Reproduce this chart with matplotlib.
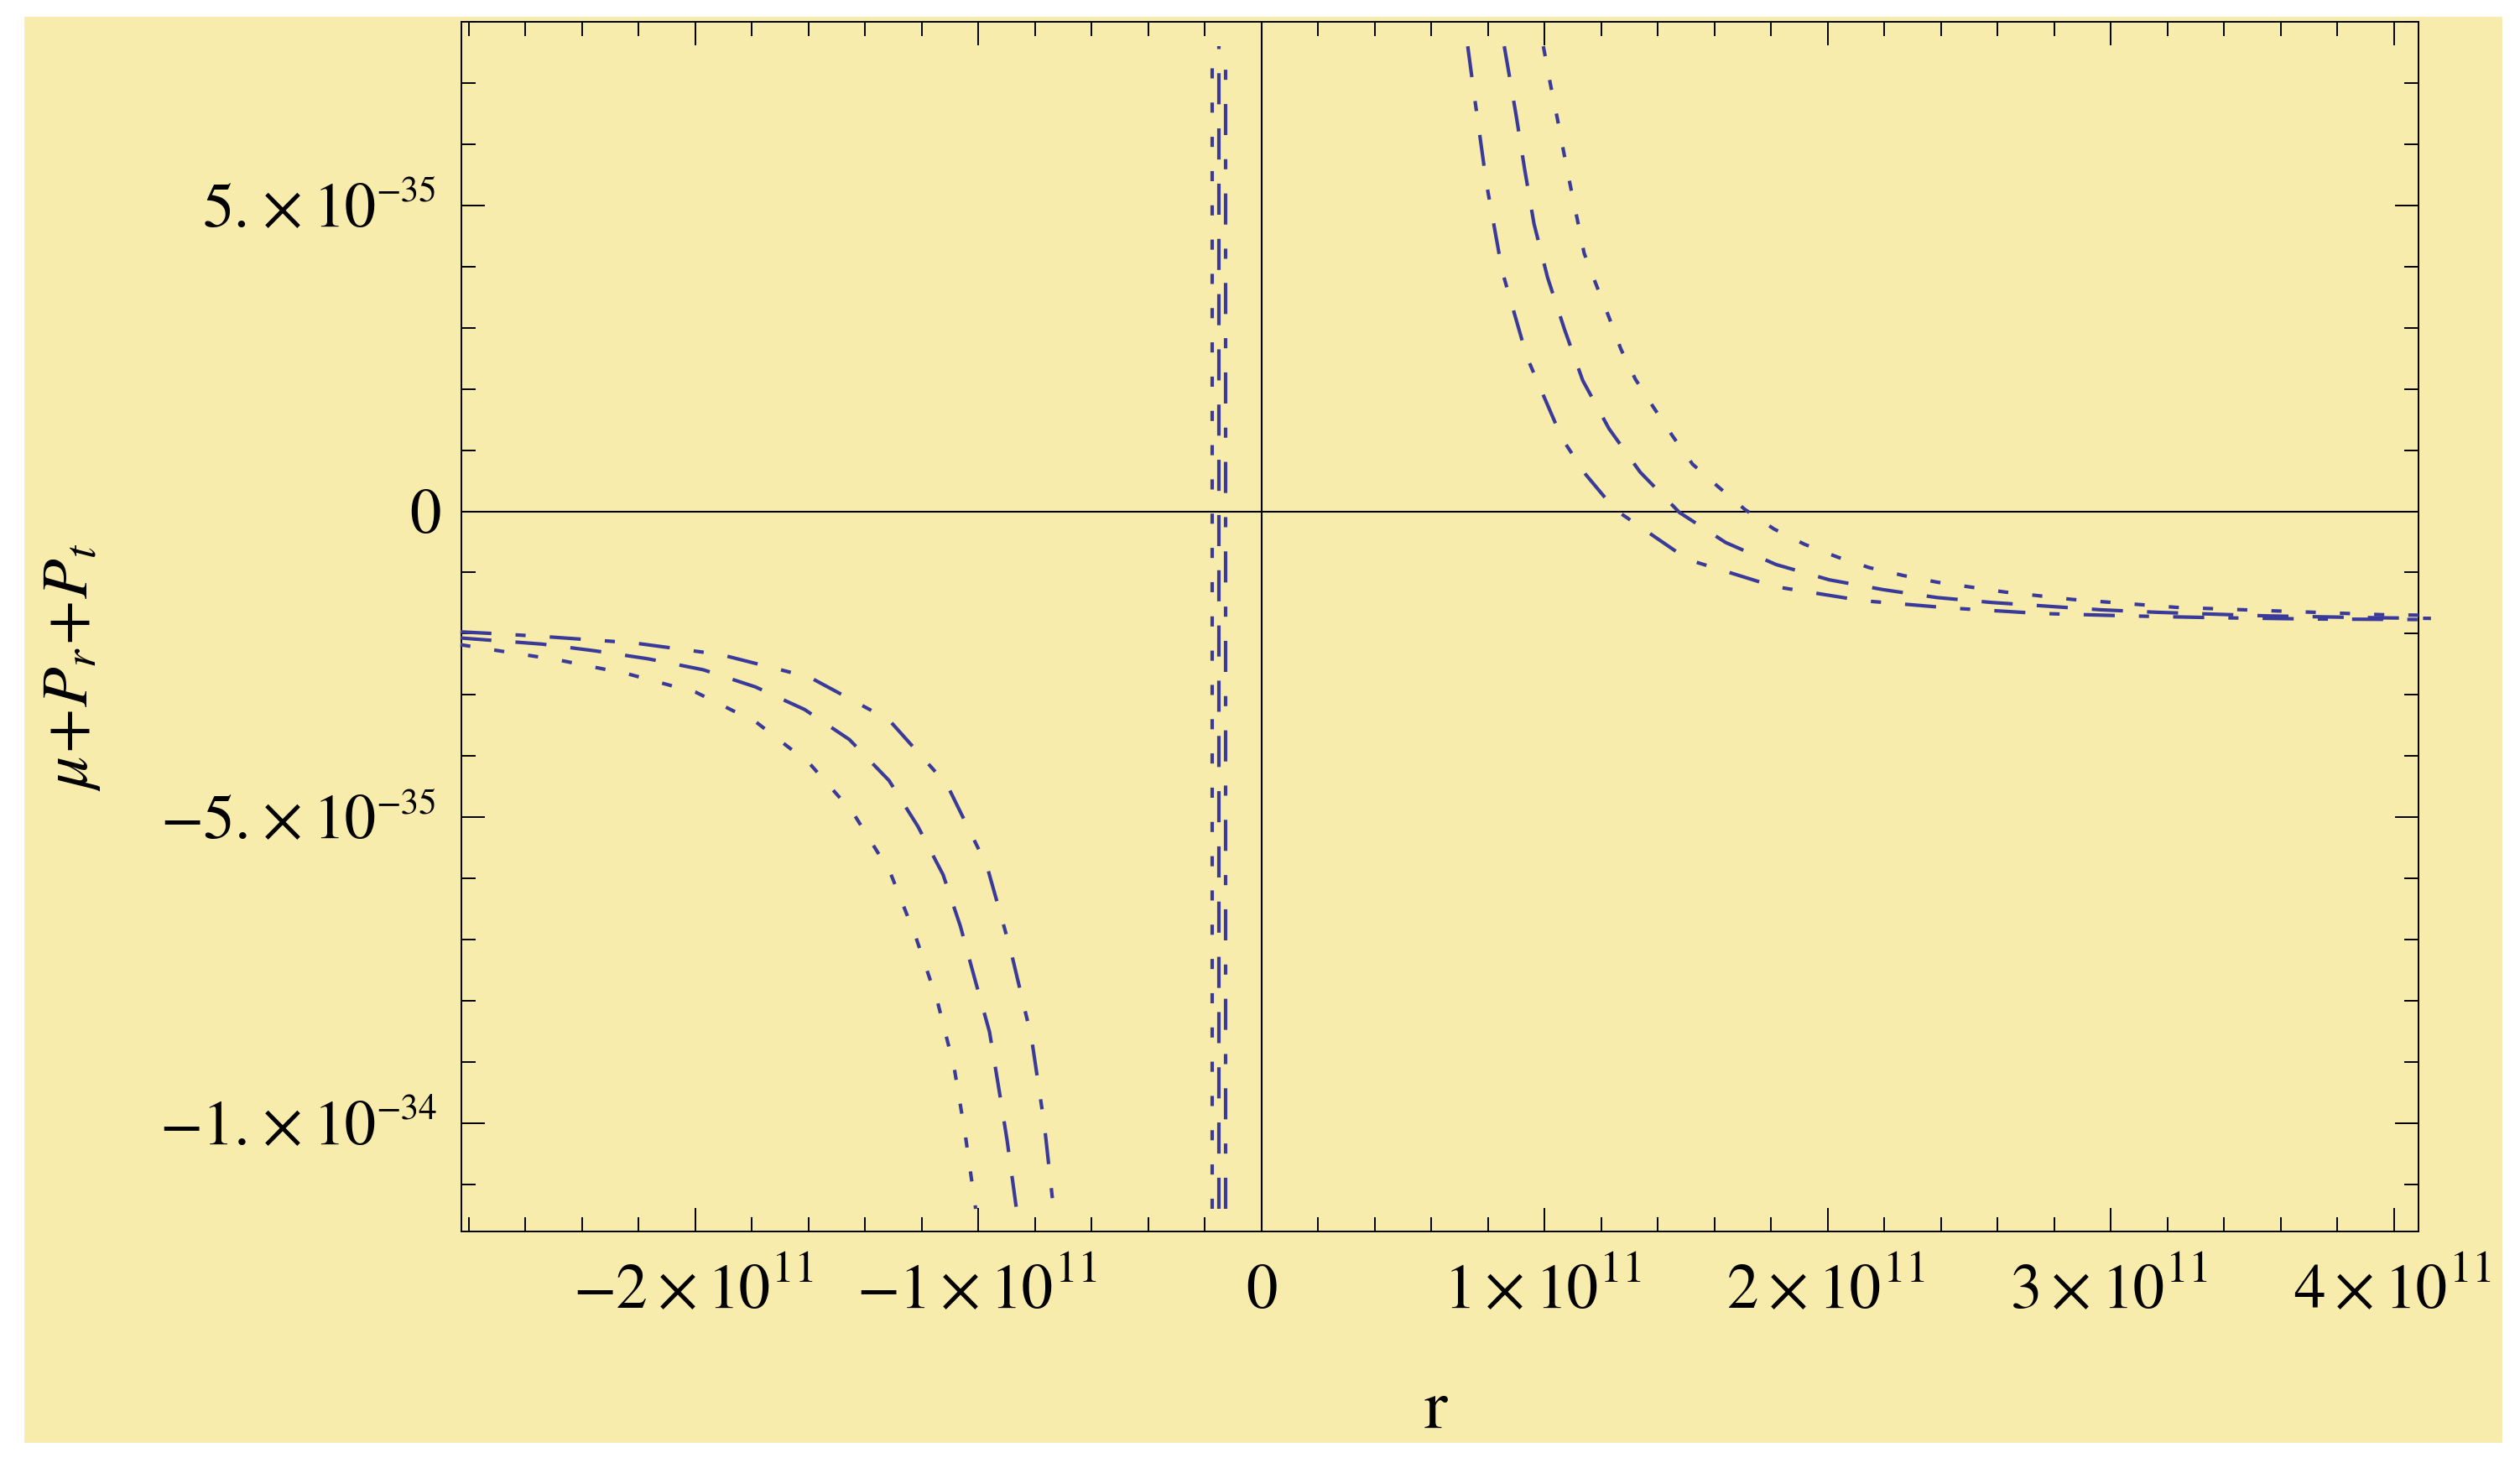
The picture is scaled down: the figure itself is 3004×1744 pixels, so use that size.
"""Mathematica-style plot of mu + P_r + P_t against r (three parameter choices)."""

import matplotlib.pyplot as plt
from matplotlib.patches import Rectangle
from matplotlib.ticker import MultipleLocator, FixedLocator
from matplotlib.transforms import IdentityTransform

plt.rcParams['mathtext.fontset'] = 'stix'
plt.rcParams['font.family'] = 'STIXGeneral'

# r in units of 1e11, mu+Pr+Pt in units of 1e-35
# left branch (r < 0)
r_left_dotdash = [-2.83, -2.704, -2.525, -2.219, -1.912, -1.597, -1.316, -1.111,
                  -0.970, -0.887, -0.813, -0.767, -0.735]
f_left_dotdash = [-1.97, -2.00, -2.05, -2.15, -2.34, -2.71, -3.41, -4.47,
                  -5.80, -7.16, -8.60, -10.04, -11.40]
r_left_dashed = [-2.83, -2.542, -2.355, -2.168, -1.972, -1.788, -1.614, -1.456,
                 -1.316, -1.214, -1.125, -1.064, -1.012, -0.961, -0.929, -0.899, -0.866]
f_left_dashed = [-2.07, -2.17, -2.28, -2.41, -2.59, -2.87, -3.24, -3.73,
                 -4.40, -5.15, -5.94, -6.78, -7.66, -8.51, -9.41, -10.28, -11.40]
r_left_dotted = [-2.83, -2.721, -2.483, -2.236, -1.997, -1.784, -1.597, -1.444,
                 -1.312, -1.222, -1.145, -1.086, -1.047, -1.010]
f_left_dotted = [-2.18, -2.26, -2.43, -2.66, -2.96, -3.45, -4.12, -4.92,
                 -5.90, -6.95, -8.01, -9.09, -10.18, -11.40]

# right branch (r > 0)
r_right_dotdash = [0.728, 0.751, 0.794, 0.850, 0.937, 1.061, 1.145, 1.248, 1.506,
                   1.812, 2.121, 2.430, 2.752, 3.068, 3.382, 3.704, 4.13]
f_right_dotdash = [7.60, 6.80, 5.36, 3.92, 2.52, 1.19, 0.60, 0.03, -0.79,
                   -1.23, -1.46, -1.58, -1.67, -1.71, -1.74, -1.76, -1.77]
r_right_dashed = [0.857, 0.866, 0.899, 0.929, 0.962, 1.010, 1.070, 1.134, 1.227,
                  1.337, 1.476, 1.639, 1.817, 2.005, 2.195, 2.386, 2.579, 2.772,
                  2.964, 3.160, 3.555, 3.939, 4.13]
f_right_dashed = [7.60, 7.36, 6.47, 5.59, 4.70, 3.82, 2.97, 2.14, 1.35,
                  0.64, -0.02, -0.51, -0.87, -1.12, -1.28, -1.41, -1.49, -1.55,
                  -1.61, -1.65, -1.71, -1.74, -1.75]
r_right_dotted = [0.995, 1.020, 1.044, 1.067, 1.090, 1.115, 1.139, 1.182, 1.227,
                  1.269, 1.320, 1.384, 1.453, 1.522, 1.613, 1.707, 1.810, 1.918,
                  2.035, 2.146, 2.267, 2.388, 2.626, 2.863, 3.231, 3.592, 3.958, 4.13]
f_right_dotted = [7.60, 6.98, 6.43, 5.87, 5.33, 4.77, 4.22, 3.70, 3.17,
                  2.65, 2.16, 1.70, 1.22, 0.77, 0.40, 0.03, -0.29, -0.54,
                  -0.75, -0.92, -1.05, -1.16, -1.32, -1.44, -1.57, -1.63, -1.69, -1.70]

# pole near r ~ -1.5e10, drawn as a jump by the plotter
r_pole = [-0.176, -0.150, -0.128]   # dotted, dashed, dot-dashed
f_pole = [-11.40, 7.60]

# tick labels: value, mantissa, exponent
x_ticks = [-2, -1, 0, 1, 2, 3, 4]
x_mant = ['\u22122', '\u22121', '0', '1', '2', '3', '4']
x_exp = ['11', '11', '', '11', '11', '11', '11']
y_ticks = [-10, -5, 0, 5]
y_mant = ['\u22121.', '\u22125.', '0', '5.']
y_exp = ['\u221234', '\u221235', '', '\u221235']

yellow = '#F8ECAD'
blue = '#3A3A9A'
lw = 1.5
dotted = (2.9, 6.9)
dashed = (8.9, 6.9)
dotdash = (8.9, 6.9, 2.9, 6.9)

W, H = 3004, 1744
fig = plt.figure(figsize=(W / 200, H / 200), dpi=200)
fig.patches.append(Rectangle((30 / W, 1 - 1718 / H), (2981 - 30) / W,
                             (1718 - 21) / H, transform=fig.transFigure,
                             color=yellow, zorder=-10))
ax = fig.add_axes([549.8 / W, 1 - 1468 / H, (2883 - 549.8) / W, (1468 - 26) / H])
ax.set_facecolor(yellow)

# zero axes
ax.axhline(0, color='black', lw=0.75, zorder=1)
ax.axvline(0, color='black', lw=0.75, zorder=1)

for (r, f, pat) in [(r_left_dotted, f_left_dotted, dotted),
                    (r_left_dashed, f_left_dashed, dashed),
                    (r_left_dotdash, f_left_dotdash, dotdash),
                    (r_right_dotted, f_right_dotted, dotted),
                    (r_right_dashed, f_right_dashed, dashed),
                    (r_right_dotdash, f_right_dotdash, dotdash)]:
    ax.plot(r, f, color=blue, lw=lw, dashes=pat, clip_on=False, zorder=3)

for rp, pat in zip(r_pole, [dotted, dashed, dotdash]):
    ax.plot([rp, rp], f_pole, color=blue, lw=lw, dashes=pat, zorder=3)

ax.set_xlim(-2.827, 4.086)
ax.set_ylim(-11.77, 8.0)

ax.xaxis.set_major_locator(FixedLocator(x_ticks))
ax.xaxis.set_minor_locator(MultipleLocator(0.2))
ax.yaxis.set_major_locator(FixedLocator(y_ticks))
ax.yaxis.set_minor_locator(MultipleLocator(1))

ax.tick_params(which='both', direction='in', top=True, right=True, width=0.7,
               labelbottom=False, labelleft=False, colors='black')
ax.tick_params(which='major', length=10)
ax.tick_params(which='minor', length=6)
for sp in ax.spines.values():
    sp.set_linewidth(0.7)

# Mathematica-like "a x 10^n" tick labels, built from separate pieces
fig.canvas.draw()
rend = fig.canvas.get_renderer()
ident = IdentityTransform()


def sci_label(x, y, mant, exp, size, exp_size, rise, gaps, align):
    """Place mant x 10^exp; gaps = extra px before 'x', before '10', before exp."""
    if exp:
        parts = [(mant, size, 0), ('\u00d7', size, 0), ('10', size, 0),
                 (exp, exp_size, rise)]
    else:
        parts = [(mant, size, 0)]
    texts, widths = [], []
    for s, fs, dy in parts:
        t = fig.text(0, 0, s, fontsize=fs, transform=ident, ha='left', va='baseline')
        texts.append((t, dy))
        widths.append(t.get_window_extent(rend).width)
    g = [0] + list(gaps[:len(parts) - 1])
    total = sum(widths) + sum(g)
    left = x - total if align == 'right' else x - total / 2
    for (t, dy), w, gi in zip(texts, widths, g):
        left += gi
        t.set_position((left, y + dy))
        left += w


for v, m, e in zip(y_ticks, y_mant, y_exp):
    ty = ax.transData.transform((0, v))[1]
    sci_label(521 if e else 526, ty - 25, m, e, 27, 15.5, 30, (14, 13, 0), 'right')

for v, m, e in zip(x_ticks, x_mant, x_exp):
    tx = ax.transData.transform((v, 0))[0]
    sci_label(tx, H - 1559, m, e, 27, 19.5, 31, (11, 12, 2), 'center')

fig.text(86 / W, 1 - 795 / H, r'$\mu\!+\!P_r\!+\!P_t$', rotation=90,
         ha='center', va='center', fontsize=28)
fig.text(1711 / W, 1 - 1683 / H, 'r', ha='center', va='center', fontsize=30)

plt.savefig('out.png', dpi=200, facecolor='white')
